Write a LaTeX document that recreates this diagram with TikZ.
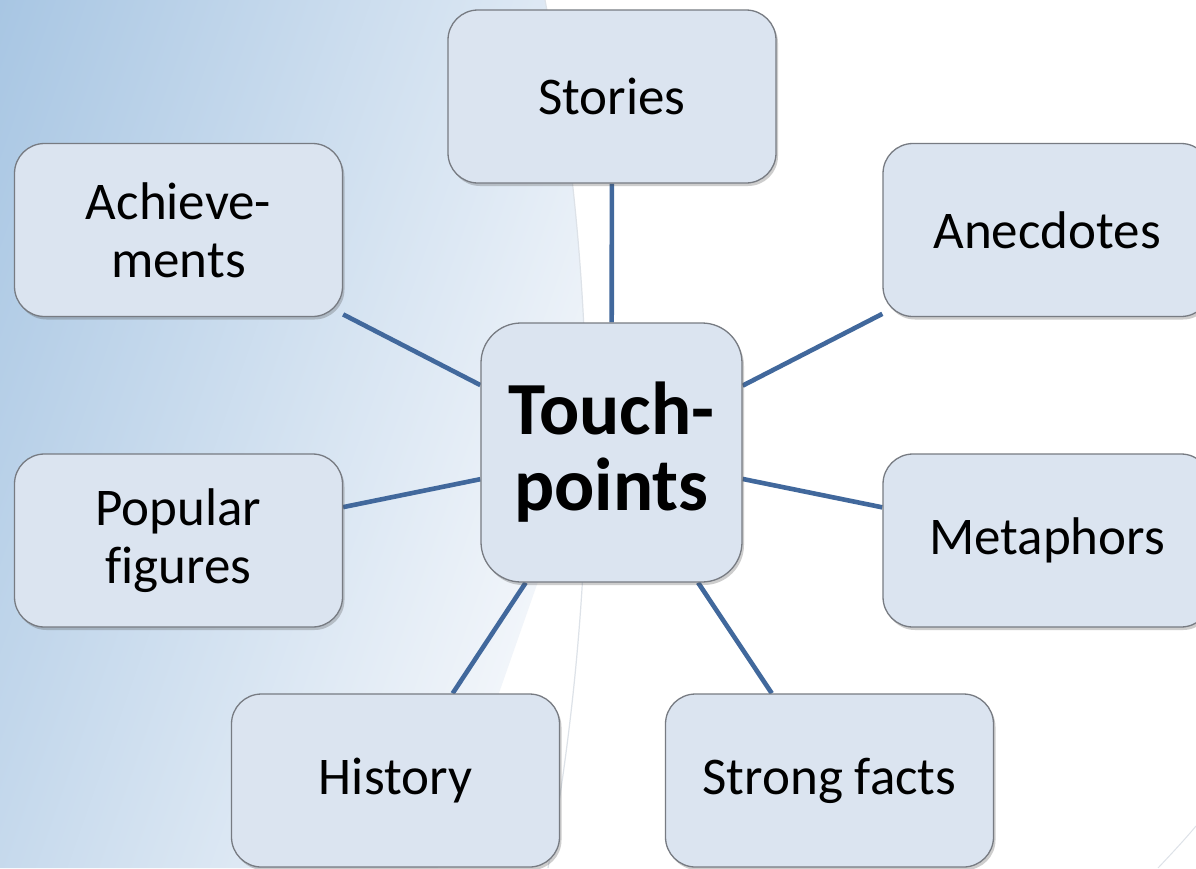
\documentclass[tikz,border=0pt]{standalone}
\usepackage{fontspec}
\setmainfont[Ligatures=NoCommon]{Carlito}
\usetikzlibrary{shadows}

\definecolor{boxfill}{HTML}{DBE4F0}
\definecolor{boxline}{HTML}{777B82}
\definecolor{linkblue}{HTML}{41689C}
\definecolor{bgleft}{HTML}{A8C6E3}
\definecolor{bgmid}{HTML}{D2E1F0}
\definecolor{bgright}{HTML}{F1F5FA}
\definecolor{arcline}{HTML}{DDE2E8}

\pgfdeclarelayer{back}
\pgfdeclarelayer{links}
\pgfsetlayers{back,links,main}

\tikzset{
  leaf/.style={rectangle, rounded corners=30pt, draw=boxline, line width=1.3pt,
    fill=boxfill, minimum width=328pt, minimum height=173pt, inner sep=0pt,
    align=center, font=\fontsize{53}{58}\selectfont,
    drop shadow={shadow xshift=2pt, shadow yshift=-3pt, opacity=0.28, fill=black!70}},
  hub/.style={leaf, rounded corners=40pt, minimum width=261pt, minimum height=259pt,
    font=\fontsize{75}{76}\selectfont\bfseries},
  linkline/.style={draw=linkblue, line width=4.6pt}
}

\begin{document}
\begin{tikzpicture}[x=1pt, y=-1pt]
\useasboundingbox (0,0) rectangle (1196,868);

% backdrop: white page with a diagonally shaded blue panel on the left
\begin{pgfonlayer}{back}
  \fill[white] (0,0) rectangle (1196,868);
  \begin{scope}
    \clip (0,0) -- (545,0) .. controls (600,290) and (600,580) .. (548,868) -- (0,868) -- cycle;
    \shade[transform canvas={rotate=-19.3}, left color=bgleft, middle color=bgmid,
      right color=bgright] (0,-1500) rectangle (700,1500);
  \end{scope}
  \draw[arcline, line width=1.2pt]
    (545,0) .. controls (600,290) and (600,580) .. (548,868);
  \draw[arcline, line width=1pt] (1158,868) .. controls (1175,850) and (1186,838) .. (1196,826);
\end{pgfonlayer}

% topic boxes
\node[hub]  (c)   at (611.5,452.5) {Touch-\\points};
\node[leaf] (sto) at (612,96.5)    {Stories};
\node[leaf] (ach) at (178.5,230)   {Achieve-\\ments};
\node[leaf] (ane) at (1047,230)    {Anecdotes};
\node[leaf] (pop) at (178.5,540.5) {Popular\\figures};
\node[leaf] (met) at (1047,540.5)  {Metaphors};
\node[leaf] (his) at (395.5,780.5) {History};
\node[leaf] (str) at (829.5,780.5) {Strong facts};

% spokes from the hub
\begin{pgfonlayer}{links}
  \foreach \n in {sto,ach,ane,pop,met,his,str}
    \draw[linkline] (c) -- (\n);
\end{pgfonlayer}
\end{tikzpicture}
\end{document}
